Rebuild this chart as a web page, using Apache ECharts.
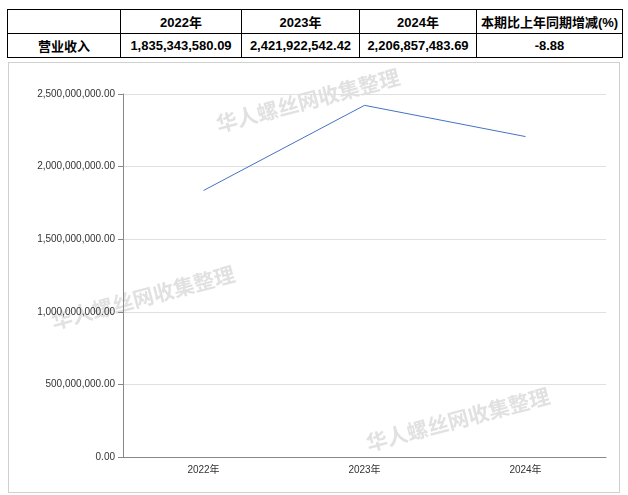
<!DOCTYPE html><html><head><meta charset="utf-8">
<script src="https://cdn.jsdelivr.net/npm/echarts@6/dist/echarts.min.js"></script>
<style>
body{margin:0;background:#fff;font-family:"Liberation Sans","Noto Sans CJK SC",sans-serif}
table{position:absolute;left:7px;top:9px;border-collapse:collapse;font-weight:bold;font-size:13px}
td{border:1px solid #000;height:23px;padding:0;text-align:center}
#c{position:absolute;left:8px;top:62px;width:610px;height:429px;border:1px solid #d0d0d0}
</style></head><body>
<table id="t"></table>
<div id="c"></div>
<script>
const categories=["2022年","2023年","2024年"];
const values=[1835343580.09,2421922542.42,2206857483.69];
const valueLabels=["1,835,343,580.09","2,421,922,542.42","2,206,857,483.69"];
const rowName="营业收入";
const changeHeader="本期比上年同期增减(%)";
const changeValue="-8.88";
const widths=[112,120,117,116,145];
let h='<tr><td style="width:'+widths[0]+'px"></td>'+categories.map((c,i)=>'<td style="width:'+widths[i+1]+'px">'+c+'</td>').join('')+'<td style="width:'+widths[4]+'px">'+changeHeader+'</td></tr>';
h+='<tr><td>'+rowName+'</td>'+valueLabels.map(v=>'<td>'+v+'</td>').join('')+'<td>'+changeValue+'</td></tr>';
document.getElementById('t').innerHTML=h;
const ch=echarts.init(document.getElementById('c'));
const F='"Liberation Sans","Noto Sans CJK SC"';
const wm=(l,t)=>({type:'text',left:l,top:t,rotation:0.26,style:{text:'华人螺丝网收集整理',fill:'rgba(170,170,170,0.35)',font:'bold 21px "Noto Sans CJK SC"'}});
ch.setOption({
 animation:false,
 grid:{left:114,right:13,top:31,bottom:35},
 xAxis:{type:'category',data:categories,axisLine:{lineStyle:{color:'#888'}},axisLabel:{color:'#333',fontSize:10,fontFamily:F}},
 yAxis:{type:'value',min:0,max:2500000000,interval:500000000,axisLine:{show:true,lineStyle:{color:'#888'}},axisTick:{show:true},splitLine:{lineStyle:{color:'#e0e0e0'}},
  axisLabel:{color:'#333',fontSize:10,fontFamily:F,formatter:v=>v.toLocaleString('en-US',{minimumFractionDigits:2})}},
 series:[{type:'line',data:values,symbol:'none',lineStyle:{color:'#4472c4',width:1}}],
 graphic:[wm(205,3),wm(40,200),wm(355,322)]
});
</script></body></html>
